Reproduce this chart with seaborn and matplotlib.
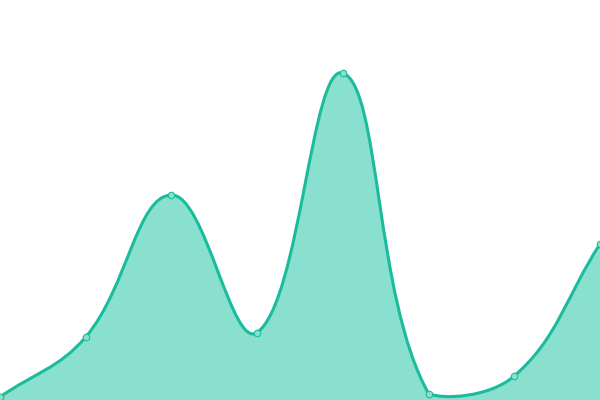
import numpy as np
import pandas as pd
import seaborn as sns
import matplotlib.pyplot as plt
from matplotlib.path import Path
from matplotlib.patches import PathPatch

# dados
indices = [0, 1, 2, 3, 4, 5, 6, 7]
valores = [3, 63, 205, 67.5, 327, 6.5, 24, 156]

cor_linha = '#1abc9c'
cor_area = '#8ae0cf'

df = pd.DataFrame({'x': indices, 'y': valores})

sns.set_style('white')
fig = plt.figure(figsize=(6, 4), dpi=100)
ax = fig.add_axes([0, 0, 1, 1])
ax.set_xlim(0, 7)
ax.set_ylim(0, 400)
ax.axis('off')

# curva suave (bezier com tensao 0.4, controles limitados a area)
sx = 600 / 7
tensao = 0.4
pts = np.column_stack([df['x'] * sx, df['y']])
n = len(pts)
ctrl = []
for i in range(n):
    p0 = pts[max(i - 1, 0)]
    p1 = pts[i]
    p2 = pts[min(i + 1, n - 1)]
    d01 = np.hypot(*(p1 - p0))
    d12 = np.hypot(*(p2 - p1))
    tot = d01 + d12 if d01 + d12 > 0 else 1
    fa = tensao * d01 / tot
    fb = tensao * d12 / tot
    c_prev = p1 - fa * (p2 - p0)
    c_next = p1 + fb * (p2 - p0)
    c_prev[1] = np.clip(c_prev[1], 0, 400)
    c_next[1] = np.clip(c_next[1], 0, 400)
    ctrl.append((c_prev, c_next))

verts = [pts[0]]
codes = [Path.MOVETO]
for i in range(n - 1):
    verts += [ctrl[i][1], ctrl[i + 1][0], pts[i + 1]]
    codes += [Path.CURVE4] * 3
verts = [(v[0] / sx, v[1]) for v in verts]

area_verts = verts + [(indices[-1], 0), (indices[0], 0), verts[0]]
area_codes = codes + [Path.LINETO, Path.LINETO, Path.CLOSEPOLY]
ax.add_patch(PathPatch(Path(area_verts, area_codes), facecolor=cor_area, edgecolor='none', zorder=1))
ax.add_patch(PathPatch(Path(verts, codes), facecolor='none', edgecolor=cor_linha, lw=2.2, zorder=2))

# pontos
sns.scatterplot(data=df, x='x', y='y', ax=ax, s=22, color=cor_area,
                edgecolor=cor_linha, linewidth=0.8, zorder=3, legend=False)
ax.set_xlim(0, 7)
ax.set_ylim(0, 400)
ax.axis('off')

fig.savefig('out.png', dpi=100)
